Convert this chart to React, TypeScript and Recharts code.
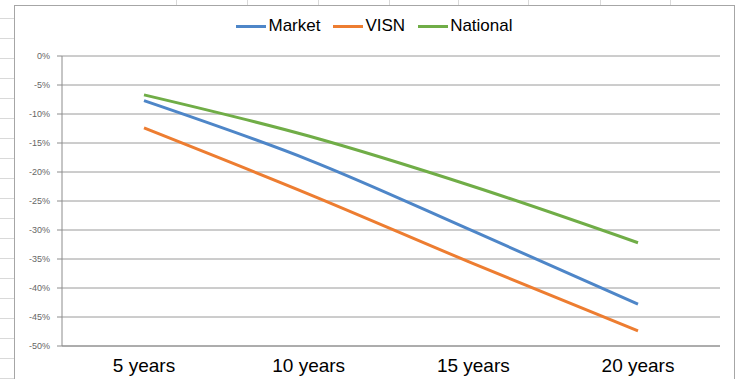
import React from 'react';
import { LineChart, Line, XAxis, YAxis, CartesianGrid } from 'recharts';

const periods = ['5 years', '10 years', '15 years', '20 years'];
const market = [-7.7, -17.9, -30.2, -42.8];
const visn = [-12.4, -23.8, -35.8, -47.4];
const national = [-6.7, -13.8, -22.5, -32.2];
const yTicks = [0, -5, -10, -15, -20, -25, -30, -35, -40, -45, -50];

const series = [
  { key: 'Market', color: '#4E86C8' },
  { key: 'VISN', color: '#ED7D31' },
  { key: 'National', color: '#70AD47' },
];

const data = periods.map((p, i) => ({
  period: p,
  Market: market[i],
  VISN: visn[i],
  National: national[i],
}));

// spreadsheet cell lines behind the chart object
const rowLines = Array.from({ length: 19 }, (_, i) => 18 + i * 20);
const colLines = [176, 247, 318, 389, 458, 528, 600, 670];

const font = '"Liberation Sans", Arial, sans-serif';

export default function App() {
  return (
    <div style={{ position: 'relative', width: 740, height: 379, background: '#fff', overflow: 'hidden', fontFamily: font }}>
      <style>{'body{margin:0}'}</style>
      {rowLines.map((y) => (
        <div key={y} style={{ position: 'absolute', left: 0, top: y, width: 15, height: 1, background: '#d9d9d9' }} />
      ))}
      {colLines.map((x) => (
        <div key={x} style={{ position: 'absolute', left: x, top: 0, width: 1, height: 6, background: '#d9d9d9' }} />
      ))}

      <div
        style={{
          position: 'absolute',
          left: 14,
          top: 5,
          width: 719,
          height: 380,
          border: '1px solid #a6a6a6',
          background: '#fff',
        }}
      >
        {/* legend */}
        <div
          style={{
            position: 'absolute',
            top: 10,
            left: 0,
            width: 719,
            display: 'flex',
            justifyContent: 'center',
            gap: 13,
            fontSize: 17,
            color: '#000',
          }}
        >
          {series.map((s) => (
            <div key={s.key} style={{ display: 'flex', alignItems: 'center' }}>
              <span style={{ display: 'inline-block', width: 30, height: 3, background: s.color, marginRight: 2 }} />
              <span>{s.key}</span>
            </div>
          ))}
        </div>

        <LineChart width={719} height={373} data={data} margin={{ top: 50, right: 14, left: 0, bottom: 0 }}>
          <CartesianGrid vertical={false} stroke="#9a9a9a" />
          <XAxis
            dataKey="period"
            height={33}
            padding={{ left: 82, right: 82 }}
            tickSize={0}
            tickMargin={13}
            axisLine={{ stroke: '#8c8c8c' }}
            tick={{ fill: '#000', fontSize: 19, fontFamily: font }}
          />
          <YAxis
            width={47}
            domain={[-50, 0]}
            ticks={yTicks}
            interval={0}
            tickSize={5}
            tickMargin={7}
            tickFormatter={(v: number) => `${v}%`}
            axisLine={{ stroke: '#8c8c8c' }}
            tickLine={{ stroke: '#8c8c8c' }}
            tick={{ fill: '#666', fontSize: 9, fontFamily: font }}
          />
          {series.map((s) => (
            <Line
              key={s.key}
              type="monotone"
              dataKey={s.key}
              stroke={s.color}
              strokeWidth={3}
              dot={false}
              isAnimationActive={false}
            />
          ))}
        </LineChart>
      </div>
    </div>
  );
}
